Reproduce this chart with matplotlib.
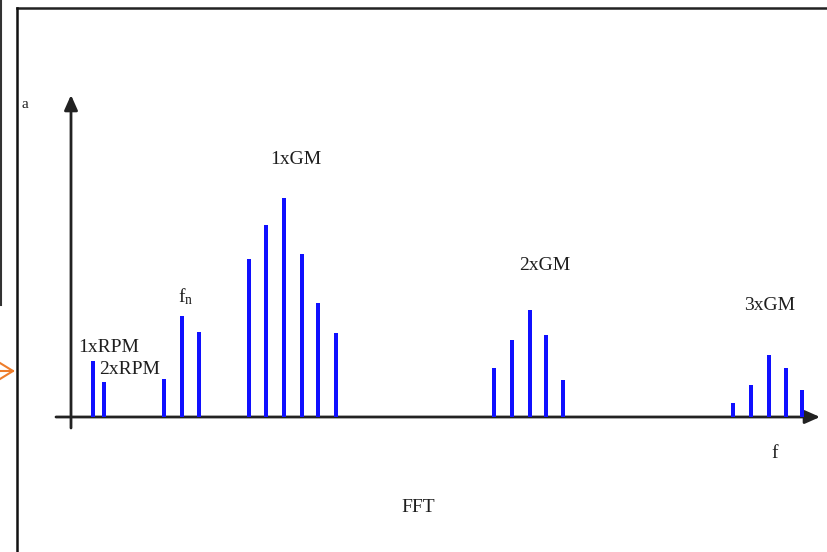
import matplotlib.pyplot as plt
from matplotlib.lines import Line2D

# spectrum lines (arbitrary frequency / amplitude units)
rpm_freq = [2.2, 3.3]
rpm_amp = [5.6, 3.5]
fn_freq = [9.3, 11.1, 12.8]
fn_amp = [3.8, 10.1, 8.5]
gm1_freq = [17.8, 19.5, 21.3, 23.1, 24.7, 26.5]
gm1_amp = [15.8, 19.2, 21.9, 16.3, 11.4, 8.4]
gm2_freq = [42.3, 44.1, 45.9, 47.5, 49.2]
gm2_amp = [4.9, 7.7, 10.7, 8.2, 3.7]
gm3_freq = [66.2, 68.0, 69.8, 71.5, 73.1]
gm3_amp = [1.4, 3.2, 6.2, 4.9, 2.7]

plt.rcParams['font.family'] = ['Liberation Serif', 'DejaVu Serif']
plt.rcParams['mathtext.fontset'] = 'custom'
plt.rcParams['mathtext.rm'] = 'Liberation Serif'
plt.rcParams['mathtext.it'] = 'Liberation Serif'

fig = plt.figure(figsize=(8.27, 5.52), dpi=100)
ax = fig.add_axes([0, 0, 1, 1])
ax.set_xlim(-7.1, 75.6)
ax.set_ylim(-13.5, 41.7)
ax.axis('off')

blue = '#1010ff'
for fr, am in [(rpm_freq, rpm_amp), (fn_freq, fn_amp), (gm1_freq, gm1_amp),
               (gm2_freq, gm2_amp), (gm3_freq, gm3_amp)]:
    ax.bar(fr, am, width=0.48, color=blue, zorder=3)

# axes with arrows
arrow = dict(arrowstyle='-|>,head_length=0.9,head_width=0.4',
             color='#222222', lw=2, shrinkA=0, shrinkB=0)
ax.annotate('', xy=(74.9, 0), xytext=(-1.5, 0), arrowprops=arrow, zorder=2)
ax.annotate('', xy=(0, 32.2), xytext=(0, -1.1), arrowprops=arrow, zorder=2)

tc = '#1e1e1e'
fs = 14
ax.text(-4.6, 31.2, 'a', fontsize=11, color=tc, ha='center', va='center')
ax.text(3.8, 6.9, '1xRPM', fontsize=fs, color=tc, ha='center', va='center')
ax.text(5.9, 4.7, '2xRPM', fontsize=fs, color=tc, ha='center', va='center')
ax.text(11.5, 12.0, r'$\mathrm{f_n}$', fontsize=fs, color=tc, ha='center', va='center')
ax.text(22.5, 25.7, '1xGM', fontsize=fs, color=tc, ha='center', va='center')
ax.text(47.4, 15.2, '2xGM', fontsize=fs, color=tc, ha='center', va='center')
ax.text(69.9, 11.2, '3xGM', fontsize=fs, color=tc, ha='center', va='center')
ax.text(70.4, -3.6, 'f', fontsize=fs, color=tc, ha='center', va='center')
ax.text(34.7, -9.1, 'FFT', fontsize=fs, color=tc, ha='center', va='center')

# screenshot frame bits
W, H = 827, 552
def fx(px): return px / W
def fy(py): return 1 - py / H
fig.add_artist(Line2D([fx(17), 1], [fy(8), fy(8)], color='#222222', lw=1.8))
fig.add_artist(Line2D([fx(17), fx(17)], [fy(8), 0], color='#111111', lw=1.8))
fig.add_artist(Line2D([fx(1), fx(1)], [1, fy(305)], color='#333333', lw=1.5))
fig.add_artist(Line2D([0, fx(13), 0], [fy(363), fy(371), fy(379)], color='#ee7d2b', lw=1.5))
fig.add_artist(Line2D([0, fx(13)], [fy(371), fy(371)], color='#ee7d2b', lw=1.5))

fig.savefig('out.png', dpi=100)
